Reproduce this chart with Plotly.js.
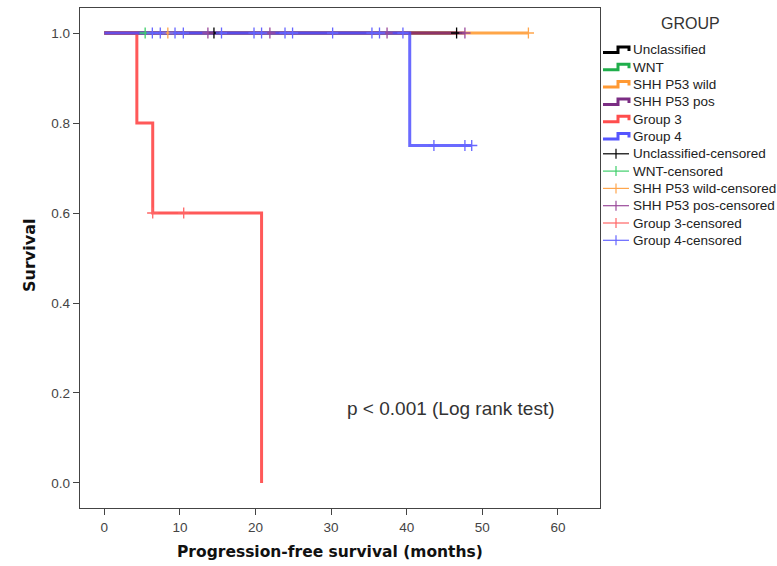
<!DOCTYPE html>
<html>
<head>
<meta charset="utf-8">
<script src="https://cdn.plot.ly/plotly-3.0.1.min.js"></script>
<style>html,body{margin:0;padding:0;background:#fff;}#chart{width:777px;height:566px;}</style>
</head>
<body>
<div id="chart"></div>
<script>
// Group names
const groups = ["Unclassified", "WNT", "SHH P53 wild", "SHH P53 pos", "Group 3", "Group 4"];
const lineColors = ["rgba(0,0,0,0.85)", "rgba(20,170,60,0.85)", "rgba(255,150,40,0.85)", "rgba(120,30,120,0.8)", "rgba(255,60,60,0.85)", "rgba(80,80,255,0.85)"];
const legendColors = ["#000000", "#1fae4b", "#ff9933", "#7b2d83", "#ff4d4d", "#5555ff"];
const censColors = ["#000000", "#3fcf6a", "#ffa64d", "#9a4a9a", "#ff6666", "#6666ff"];

// Kaplan-Meier step curves (time in months, survival)
const unclTime = [0, 46.6];           const unclSurv = [1, 1];
const wntTime = [0, 5.4];             const wntSurv = [1, 1];
const shhWildTime = [0, 56.1];        const shhWildSurv = [1, 1];
const shhPosTime = [0, 47.7];         const shhPosSurv = [1, 1];
const g3Time = [0, 4.3, 6.4, 20.8];   const g3Surv = [1, 0.8, 0.6, 0];
const g4Time = [0, 40.4, 48.6];       const g4Surv = [1, 0.75, 0.75];

// Censored observations
const unclCensT = [14.5, 46.6];                 const unclCensS = [1, 1];
const wntCensT = [5.4];                         const wntCensS = [1];
const shhWildCensT = [8.4, 56.1];               const shhWildCensS = [1, 1];
const shhPosCensT = [13.7, 21.9, 37.4, 47.7];   const shhPosCensS = [1, 1, 1, 1];
const g3CensT = [6.4, 10.5];                    const g3CensS = [0.6, 0.6];
const g4CensT = [6.35, 7.4, 9.35, 10.45, 15.5, 19.8, 20.8, 23.9, 24.9, 30.2, 35.4, 36.4, 39.5, 43.6, 47.7, 48.6];
const g4CensS = [1, 1, 1, 1, 1, 1, 1, 1, 1, 1, 1, 1, 1, 0.75, 0.75, 0.75];

const xTicks = [0, 10, 20, 30, 40, 50, 60];
const yTicks = [0, 0.2, 0.4, 0.6, 0.8, 1.0];

const curveT = [unclTime, wntTime, shhWildTime, shhPosTime, g3Time, g4Time];
const curveS = [unclSurv, wntSurv, shhWildSurv, shhPosSurv, g3Surv, g4Surv];
const censT = [unclCensT, wntCensT, shhWildCensT, shhPosCensT, g3CensT, g4CensT];
const censS = [unclCensS, wntCensS, shhWildCensS, shhPosCensS, g3CensS, g4CensS];

const W = 777, H = 566, ML = 80, MR = 177, MT = 8, MB = 58;
const PW = W - ML - MR, PH = H - MT - MB;
const px = v => (v - ML) / PW;          // pixel x -> paper
const py = v => (H - MB - v) / PH;      // pixel y -> paper

const traces = [];
groups.forEach((g, i) => {
  traces.push({
    x: curveT[i], y: curveS[i], name: g, type: "scatter", mode: "lines",
    line: {shape: "hv", color: lineColors[i], width: 3},
    hoverinfo: "skip", showlegend: false
  });
});
groups.forEach((g, i) => {
  traces.push({
    x: censT[i], y: censS[i], name: g + "-censored", type: "scatter", mode: "markers",
    marker: {symbol: "cross-thin", size: 8, line: {color: censColors[i], width: 1.3}, color: censColors[i]},
    hoverinfo: "skip", showlegend: false
  });
});

// Custom legend (SPSS style)
const shapes = [];
const annotations = [];
const legFont = {family: "Liberation Sans, Arial, sans-serif", size: 13.5, color: "#222"};
const entries = [];
groups.forEach((g, i) => entries.push({label: g, kind: "curve", color: legendColors[i]}));
groups.forEach((g, i) => entries.push({label: g + "-censored", kind: "cens", color: censColors[i]}));
entries.forEach((e, k) => {
  const yc = 50 + 17.3 * k;
  if (e.kind === "curve") {
    const path = `M ${px(603)} ${py(yc + 2.5)} L ${px(618)} ${py(yc + 2.5)} L ${px(618)} ${py(yc - 3)} L ${px(629)} ${py(yc - 3)} L ${px(629)} ${py(yc + 1)}`;
    shapes.push({type: "path", xref: "paper", yref: "paper", path: path,
      line: {color: e.color, width: 3}});
  } else {
    shapes.push({type: "line", xref: "paper", yref: "paper", x0: px(603), x1: px(629), y0: py(yc), y1: py(yc),
      line: {color: e.color, width: 1.2}});
    shapes.push({type: "line", xref: "paper", yref: "paper", x0: px(616), x1: px(616), y0: py(yc - 5), y1: py(yc + 5),
      line: {color: e.color, width: 1.2}});
  }
  annotations.push({text: e.label, x: px(631), y: py(yc), xref: "paper", yref: "paper",
    xanchor: "left", yanchor: "middle", showarrow: false, font: legFont});
});
annotations.push({text: "GROUP", x: px(690), y: py(23), xref: "paper", yref: "paper",
  xanchor: "center", yanchor: "middle", showarrow: false,
  font: {family: "Liberation Sans, Arial, sans-serif", size: 16, color: "#333"}});
annotations.push({text: "p < 0.001 (Log rank test)", x: px(345), y: py(408), xref: "paper", yref: "paper",
  xanchor: "left", yanchor: "middle", showarrow: false,
  font: {family: "Liberation Sans, Arial, sans-serif", size: 19, color: "#333"}});
annotations.push({text: "<b>Progression-free survival (months)</b>", x: px(330), y: py(552), xref: "paper", yref: "paper",
  xanchor: "center", yanchor: "middle", showarrow: false,
  font: {family: "DejaVu Sans, Verdana, sans-serif", size: 15.5, color: "#111"}});
annotations.push({text: "<b>Survival</b>", x: px(29), y: py(256), xref: "paper", yref: "paper",
  xanchor: "center", yanchor: "middle", showarrow: false, textangle: -90,
  font: {family: "DejaVu Sans, Verdana, sans-serif", size: 16, color: "#111"}});

const axisFont = {family: "Liberation Sans, Arial, sans-serif", size: 13.5, color: "#444"};
const layout = {
  width: W, height: H,
  margin: {l: ML, r: MR, t: MT, b: MB, autoexpand: false},
  paper_bgcolor: "#fff", plot_bgcolor: "#fff",
  showlegend: false,
  xaxis: {
    range: [-3.22, 65.57], tickvals: xTicks, ticktext: xTicks.map(String),
    showgrid: false, zeroline: false, showline: true, mirror: true,
    linecolor: "#444", linewidth: 1.3, ticks: "outside", ticklen: 6, tickcolor: "#444",
    tickfont: axisFont
  },
  yaxis: {
    range: [-0.0556, 1.0556], tickvals: yTicks, ticktext: yTicks.map(v => v.toFixed(1)),
    showgrid: false, zeroline: false, showline: true, mirror: true,
    linecolor: "#444", linewidth: 1.3, ticks: "outside", ticklen: 6, tickcolor: "#444",
    tickfont: axisFont
  },
  shapes: shapes,
  annotations: annotations
};

Plotly.newPlot("chart", traces, layout, {displayModeBar: false, staticPlot: true});
</script>
</body>
</html>
